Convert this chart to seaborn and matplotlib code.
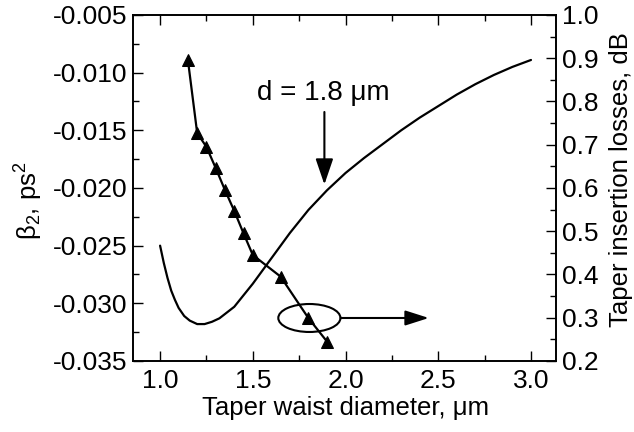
import matplotlib
matplotlib.use("Agg")
import matplotlib.pyplot as plt
from matplotlib.patches import Ellipse
from matplotlib.ticker import MultipleLocator, FormatStrFormatter
import seaborn as sns

# beta2 dispersion curve (left axis)
diam_beta = [1.0, 1.02, 1.04, 1.06, 1.08, 1.1, 1.13, 1.16, 1.2, 1.24, 1.28, 1.32,
             1.4, 1.5, 1.6, 1.7, 1.8, 1.9, 2.0, 2.1, 2.2, 2.3, 2.4, 2.5, 2.6,
             2.7, 2.8, 2.9, 3.0]
beta2 = [-0.0250, -0.0265, -0.0278, -0.0289, -0.0297, -0.0304, -0.0311, -0.0315,
         -0.0318, -0.0318, -0.0316, -0.0313, -0.0303, -0.0283, -0.0261, -0.0239,
         -0.0219, -0.0202, -0.0187, -0.0174, -0.0162, -0.0150, -0.0139, -0.0129,
         -0.0119, -0.0110, -0.0102, -0.0095, -0.0089]

# taper insertion losses (right axis)
diam_loss = [1.15, 1.20, 1.25, 1.30, 1.35, 1.40, 1.45, 1.50, 1.65, 1.80, 1.90]
losses = [0.896, 0.727, 0.695, 0.646, 0.595, 0.547, 0.495, 0.445, 0.395, 0.299, 0.245]

xticks = [1.0, 1.5, 2.0, 2.5, 3.0]

sns.set_style("ticks")
plt.rcParams['font.family'] = ['Liberation Sans', 'DejaVu Sans']
plt.rcParams['mathtext.fontset'] = 'custom'
plt.rcParams['mathtext.rm'] = 'Liberation Sans'
plt.rcParams['mathtext.it'] = 'Liberation Sans:italic'
plt.rcParams['axes.unicode_minus'] = False
for k in ('text.color', 'axes.labelcolor', 'xtick.color', 'ytick.color',
          'xtick.labelcolor', 'ytick.labelcolor'):
    plt.rcParams[k] = 'black'

fig = plt.figure(figsize=(6.34, 4.32), dpi=100)
ax = fig.add_axes([0.2098, 0.1644, 0.877 - 0.2098, 0.9653 - 0.1644])
ax2 = ax.twinx()

sns.lineplot(x=diam_beta, y=beta2, ax=ax, color='black', lw=1.6)
sns.lineplot(x=diam_loss, y=losses, ax=ax2, color='black', lw=1.6,
             marker='^', markersize=9, markeredgecolor='black', sort=False)

ax.set_xlim(0.854, 3.135)
ax.set_ylim(-0.035, -0.005)
ax2.set_ylim(0.2, 1.0)
ax.set_xticks(xticks)
ax.xaxis.set_minor_locator(MultipleLocator(0.25))
ax.yaxis.set_major_locator(MultipleLocator(0.005))
ax.yaxis.set_minor_locator(MultipleLocator(0.0025))
ax.yaxis.set_major_formatter(FormatStrFormatter('%.3f'))
ax.xaxis.set_major_formatter(FormatStrFormatter('%.1f'))
ax2.yaxis.set_major_locator(MultipleLocator(0.1))
ax2.yaxis.set_minor_locator(MultipleLocator(0.05))
ax2.yaxis.set_major_formatter(FormatStrFormatter('%.1f'))

fs = 19
ax.tick_params(which='both', direction='in', top=True, right=False, labelsize=fs,
               color='black', labelcolor='black', width=1)
ax.tick_params(which='major', length=7)
ax.tick_params(which='minor', length=4)
ax.tick_params(axis='x', which='major', pad=6)
ax.tick_params(axis='y', which='major', pad=4)
ax2.tick_params(which='both', direction='in', labelsize=fs, color='black',
                labelcolor='black', width=1)
ax2.tick_params(which='major', length=7, pad=4)
ax2.tick_params(which='minor', length=4)
for a in (ax, ax2):
    for s in a.spines.values():
        s.set_visible(True)
        s.set_color('black')
        s.set_linewidth(1.2)

ax.set_xlabel('Taper waist diameter, μm', fontsize=18.5, color='black')
ax.set_ylabel('β$_2$, ps$^2$', fontsize=18.5, color='black')
ax2.set_ylabel('Taper insertion losses, dB', fontsize=18.5, color='black')
ax.xaxis.set_label_coords(0.5035, -0.101)
ax.yaxis.set_label_coords(-0.208, 0.462)
ax2.yaxis.set_label_coords(1.126, 0.523)

# annotation d = 1.8 um
ax.text(1.524, -0.01237, 'd = 1.8 μm', fontsize=20, ha='left', va='baseline',
        color='black')
ax.annotate('', xy=(1.886, -0.0197), xytext=(1.886, -0.01341),
            arrowprops=dict(arrowstyle='-|>,head_length=0.79,head_width=0.27',
                            mutation_scale=20, lw=1.5, color='black',
                            shrinkA=0, shrinkB=0))

# ellipse and arrow to right axis
ax2.add_patch(Ellipse((1.805, 0.2994), 0.335, 0.0647, fill=False,
                      edgecolor='black', lw=1.5))
ax2.annotate('', xy=(2.449, 0.2994), xytext=(1.973, 0.2994),
             arrowprops=dict(arrowstyle='-|>,head_length=0.72,head_width=0.23',
                             mutation_scale=20, lw=1.5, color='black',
                             shrinkA=0, shrinkB=0))

fig.savefig('out.png', dpi=100)
